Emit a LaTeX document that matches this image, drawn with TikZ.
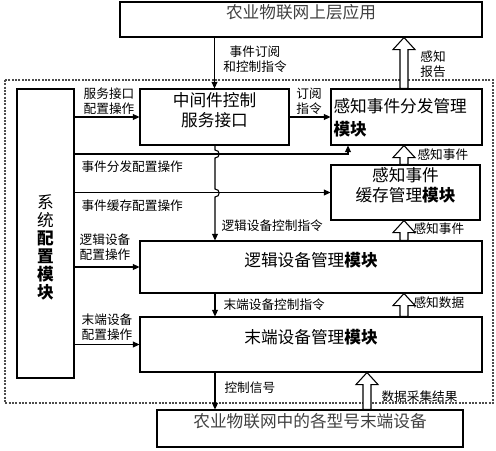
\documentclass[tikz,border=0pt]{standalone}
\usepackage{fontspec}
\setmainfont{Noto Sans CJK SC}
\usetikzlibrary{arrows.meta,fit,calc}

\tikzset{every picture/.style={line width=0.8pt}}
\tikzset{
  box/.style={draw, inner sep=0pt, font=\fontsize{12.5}{15}\selectfont, align=center},
  lbl/.style={inner sep=0.75pt, font=\fontsize{9.5}{11}\selectfont, align=center},
  hollow/.style={draw, fill=white, line width=0.8pt},
  >={Triangle[length=5pt,width=4.5pt]}
}
% hollow block arrow pointing upwards
\newcommand{\hollowup}[2]{%
  \draw[hollow] ($#1+(-4,0)$) -- ($#2+(-4,12)$) -- ($#2+(-11,12)$) -- #2
    -- ($#2+(11,12)$) -- ($#2+(4,12)$) -- ($#1+(4,0)$) -- cycle;}

\begin{document}
\begin{tikzpicture}[x=0.75pt,y=0.75pt,yscale=-1,xscale=1]
\useasboundingbox (0,0) rectangle (496,450);

%Frame: middleware
\draw [black!70, dash pattern={on 1.5pt off 1pt}] (5,80) rectangle (493,403);

%Boxes
\node [box, text=black!75, fit={(120,2) (482,37)}] (top) {农业物联网上层应用};
\node [box, fit={(140,89) (289,145)}] (mid) {中间件控制\\服务接口};
\node [box, fit={(331,89) (482,145)}] (disp) {};
\node [box, draw=none, anchor=west, align=left] (disptxt) at (333,118) {感知事件分发管理\\[2pt]\textbf{模块}};
\node [box, fit={(331,165) (480,220)}] (cache) {感知事件\\缓存管理\textbf{模块}};
\node [box, fit={(140,241) (482,293)}] (logic) {逻辑设备管理\textbf{模块}};
\node [box, fit={(140,317) (482,372)}] (endd) {末端设备管理\textbf{模块}};
\node [box, text=black!75, fit={(157,410) (463,447)}] (bot) {农业物联网中的各型号末端设备};
\node [box, fit={(17,89) (74,378)}] (sys) {};
\node [box, draw=none, font=\fontsize{12.5}{13.5}\selectfont] (systxt) at (45.5,247) {系\\统\\\textbf{配}\\\textbf{置}\\\textbf{模}\\\textbf{块}};

%Helper points
\coordinate (dcfg) at (348,154);
\coordinate (jmpa) at (215,150);
\coordinate (jmpb) at (215,189);
\coordinate (hx) at (404,0);
\coordinate (dx) at (367,0);

%Connectors
\draw [->] (top.south -| mid.north) -- (mid.north);
\draw [->] (sys.east |- mid.west) -- (mid.west);
\draw [->] (mid.east) -- (disp.west);
\draw [->] (sys.east |- dcfg) -- (dcfg) -- (dcfg |- disp.south);
\draw [->] (sys.east |- cache.west) -- (cache.west);
\draw [->] (mid.south -| jmpa) -- (jmpa) .. controls ($(jmpa)+(5.5,0)$) and ($(jmpa)+(5.5,8)$) .. ($(jmpa)+(0,8)$)
  -- (jmpb) .. controls ($(jmpb)+(5.5,0)$) and ($(jmpb)+(5.5,8)$) .. ($(jmpb)+(0,8)$)
  -- (logic.north -| jmpa);
\draw [->] (sys.east |- logic.west) -- (logic.west);
\draw [->] (logic.south -| jmpa) -- (endd.north -| jmpa);
\draw [->] (sys.east |- endd.west) -- (endd.west);
\draw [->] (endd.south -| jmpa) -- (bot.north -| jmpa);

%Hollow arrows
\hollowup{(disp.north -| hx)}{(top.south -| hx)}
\hollowup{(cache.north -| hx)}{(disp.south -| hx)}
\hollowup{(logic.north -| hx)}{(cache.south -| hx)}
\hollowup{(endd.north -| hx)}{(logic.south -| hx)}
\hollowup{(bot.north -| dx)}{(endd.south -| dx)}

%Labels
\node [lbl] (l1) at (255,59) {事件订阅\\和控制指令};
\node [lbl] (l2) at (433,64) {感知\\报告};
\node [lbl] (l3) at (109,101) {服务接口\\配置操作};
\node [lbl] (l4) at (309,101) {订阅\\指令};
\node [lbl, anchor=west] (l5) at (80,167) {事件分发配置操作};
\node [lbl, anchor=west] (l6) at (80,206) {事件缓存配置操作};
\node [lbl, anchor=west] (l7) at (220,226) {逻辑设备控制指令};
\node [lbl, anchor=west] (l8) at (416,155) {感知事件};
\node [lbl, anchor=west] (l9) at (412,229) {感知事件};
\node [lbl] (l10) at (105,247) {逻辑设备\\配置操作};
\node [lbl, anchor=west] (l11) at (222,305) {末端设备控制指令};
\node [lbl, anchor=west] (l12) at (412,303) {感知数据};
\node [lbl] (l13) at (107,327) {末端设备\\配置操作};
\node [lbl, anchor=west] (l14) at (223,388) {控制信号};
\node [lbl, anchor=west] (l15) at (380,397) {数据采集结果};

\end{tikzpicture}
\end{document}
